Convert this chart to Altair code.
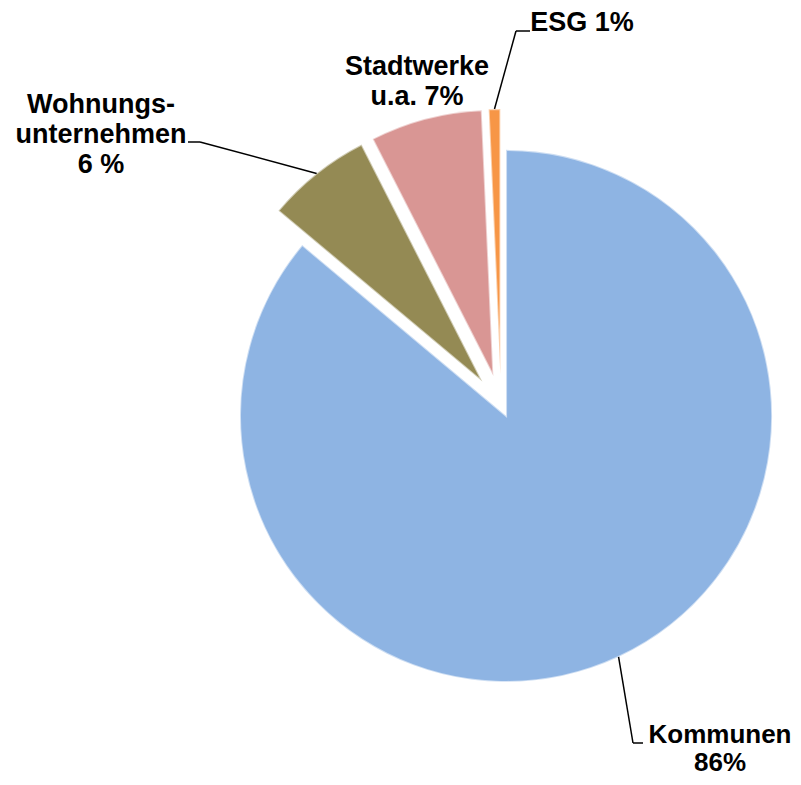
import altair as alt
import pandas as pd

# ---- data ----
categories = ["Kommunen", "Wohnungsunternehmen", "Stadtwerke", "ESG"]
values = [86.1, 6.4, 6.8, 0.7]
labels = ["Kommunen\n86%", "Wohnungs-\nunternehmen\n6 %", "Stadtwerke\nu.a. 7%", "ESG 1%"]
colors = ["#8EB4E3", "#948A54", "#D99694", "#F79646"]

# ---- layout (pixels in view) ----
CX, CY, R = 493, 397, 266
EXPLODE = [12, 30, 30, 30]
label_x = [712, 93, 409, 574]
label_y = [735, 105, 67, 23]
has_leader = [True, True, False, True]
elbow_x = [625, 192, 0, 508]
elbow_y = [735, 134, 0, 23]
hend_x = [635, 180, 0, 522]

df = pd.DataFrame({
    "idx": list(range(len(categories))),
    "category": categories,
    "value": values,
    "label": labels,
    "ex": EXPLODE,
    "lx": label_x,
    "ly": label_y,
    "lead": has_leader,
    "bx": elbow_x,
    "by": elbow_y,
    "hx": hend_x,
})

base = alt.Chart(df).transform_window(
    cum="sum(value)", sort=[alt.SortField("idx")], frame=[None, 0]
).transform_joinaggregate(
    total="sum(value)"
).transform_calculate(
    t1="2*PI*datum.cum/datum.total",
    t0="2*PI*(datum.cum-datum.value)/datum.total",
).transform_calculate(
    mid="(datum.t0+datum.t1)/2",
).transform_calculate(
    cx=f"{CX}+datum.ex*sin(datum.mid)",
    cy=f"{CY}-datum.ex*cos(datum.mid)",
).transform_calculate(
    sx=f"datum.cx+{R}*sin(datum.mid)",
    sy=f"datum.cy-{R}*cos(datum.mid)",
)

pie = base.mark_arc(radius=R, stroke="white", strokeWidth=2, strokeOpacity=0.55).encode(
    x=alt.X("cx:Q", scale=None, axis=None),
    y=alt.Y("cy:Q", scale=None, axis=None),
    theta=alt.Theta("t0:Q", scale=None),
    theta2="t1:Q",
    color=alt.Color("category:N", scale=alt.Scale(domain=categories, range=colors), legend=None),
)

lead1 = base.transform_filter("datum.lead").mark_rule(color="black", strokeWidth=1.5).encode(
    x=alt.X("sx:Q", scale=None, axis=None),
    y=alt.Y("sy:Q", scale=None, axis=None),
    x2="bx:Q",
    y2="by:Q",
)

lead2 = base.transform_filter("datum.lead").mark_rule(color="black", strokeWidth=1.5).encode(
    x=alt.X("bx:Q", scale=None, axis=None),
    y=alt.Y("by:Q", scale=None, axis=None),
    x2="hx:Q",
)

text_enc = dict(
    x=alt.X("lx:Q", scale=None, axis=None),
    y=alt.Y("ly:Q", scale=None, axis=None),
    text="label:N",
)

text_main = base.transform_filter("datum.category != 'Kommunen'").mark_text(
    font="Liberation Sans", fontWeight="bold", fontSize=27, lineBreak="\n",
    lineHeight=30, baseline="alphabetic", align="center", color="black",
).encode(**text_enc)

text_k = base.transform_filter("datum.category == 'Kommunen'").mark_text(
    font="Liberation Sans", fontWeight="bold", fontSize=26, lineBreak="\n",
    lineHeight=28, baseline="alphabetic", align="center", color="black",
).encode(**text_enc)

chart = alt.layer(pie, lead1, lead2, text_main, text_k).properties(
    width=785, height=769, autosize="none", padding=0,
).configure_view(stroke=None)

chart.save("out.html", embed_options={"renderer": "svg", "actions": False})
